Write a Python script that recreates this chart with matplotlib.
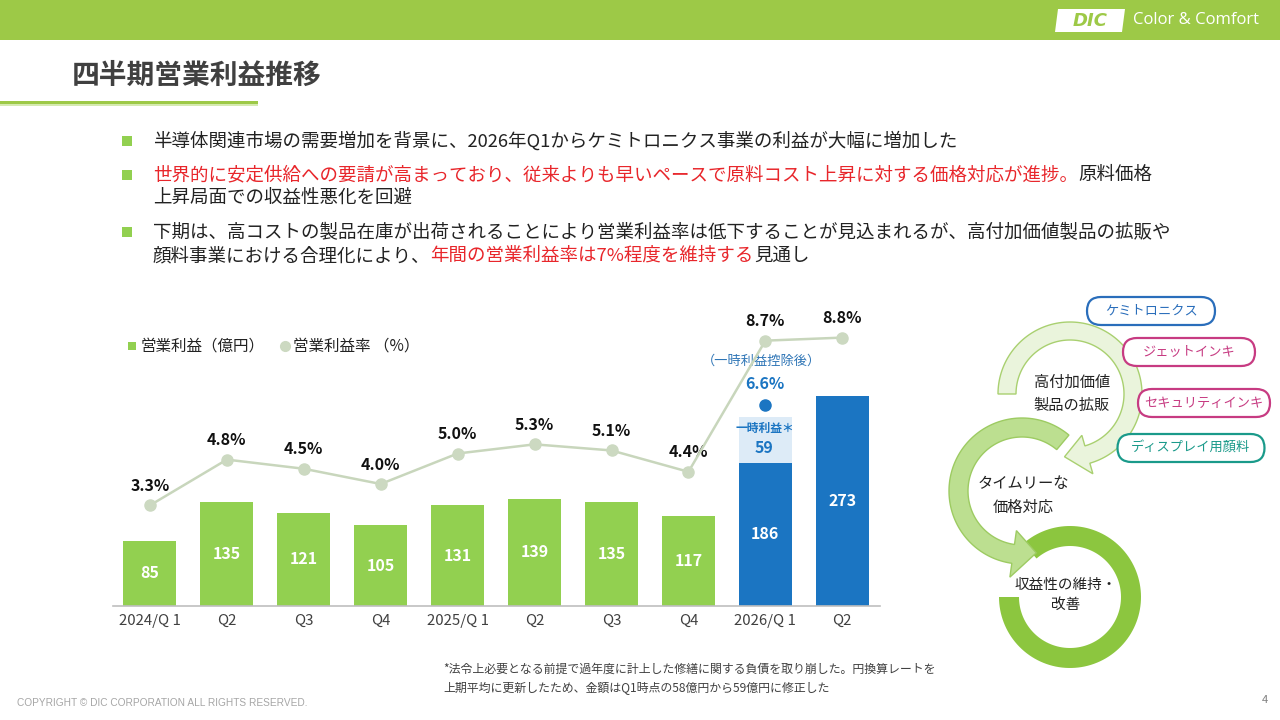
import numpy as np
import matplotlib
matplotlib.use("Agg")
import matplotlib.pyplot as plt
from matplotlib.patches import Rectangle, Polygon, FancyBboxPatch

plt.rcParams['font.family'] = ['Noto Sans CJK JP', 'DejaVu Sans']

# ---- data ----
quarters = ["2024/Q 1", "Q2", "Q3", "Q4", "2025/Q 1", "Q2", "Q3", "Q4", "2026/Q 1", "Q2"]
op_profit = [85, 135, 121, 105, 131, 139, 135, 117, 186, 273]   # 億円
op_margin = [3.3, 4.8, 4.5, 4.0, 5.0, 5.3, 5.1, 4.4, 8.7, 8.8]  # %
one_time_profit = 59          # 2026/Q1 一時利益
adj_margin = 6.6              # 2026/Q1 一時利益控除後
one_time_idx = 8

bullets = [
    [("半導体関連市場の需要増加を背景に、2026年Q1からケミトロニクス事業の利益が大幅に増加した", "k")],
    [("世界的に安定供給への要請が高まっており、従来よりも早いペースで原料コスト上昇に対する価格対応が進捗。", "r"),
     ("原料価格", "k")],
    [("上昇局面での収益性悪化を回避", "k")],
    [("下期は、高コストの製品在庫が出荷されることにより営業利益率は低下することが見込まれるが、高付加価値製品の拡販や", "k")],
    [("顔料事業における合理化により、", "k"), ("年間の営業利益率は7%程度を維持する", "r"), ("見通し", "k")],
]
bullet_first = [True, True, False, True, False]

pills = ["ケミトロニクス", "ジェットインキ", "セキュリティインキ", "ディスプレイ用顔料"]
cycle_labels = ["高付加価値\n製品の拡販", "タイムリーな\n価格対応", "収益性の維持・\n改善"]

GREEN = "#92D050"
BLUE = "#1B75C2"
RED = "#E8262B"

fig = plt.figure(figsize=(12.8, 7.2), dpi=100)
ov = fig.add_axes([0, 0, 1, 1])
ov.set_xlim(0, 1280)
ov.set_ylim(720, 0)
ov.axis('off')

# header band + logo
ov.add_patch(Rectangle((0, 0), 1280, 40, color="#9DC947", lw=0))
ov.add_patch(Polygon([(1058, 9), (1125, 9), (1122, 32), (1055, 32)], closed=True, color="white", lw=0))
ov.text(1090, 21, "DIC", color="#9DC947", fontsize=13, fontweight="bold", style="italic",
        ha="center", va="center", family="DejaVu Sans")
ov.text(1133, 20, "Color & Comfort", color="white", fontsize=12, ha="left", va="center",
        family="Open Sans")

# title
ov.text(72, 76, "四半期営業利益推移", fontsize=20, fontweight="bold", color="#404040",
        ha="left", va="center")
ov.add_patch(Rectangle((0, 101), 258, 3, color="#9DC947", lw=0))
ov.add_patch(Rectangle((0, 104), 258, 2, color="#D5EAB0", lw=0))

# bullets
renderer = fig.canvas.get_renderer()
line_y = [141, 175, 198, 232, 256]
for segs, y, first in zip(bullets, line_y, bullet_first):
    if first:
        ov.add_patch(Rectangle((122, y - 5), 10, 10, color=GREEN, lw=0))
    x = 153
    for s, c in segs:
        t = ov.text(x, y, s, fontsize=13.3, color=RED if c == "r" else "#222222",
                    ha="left", va="center")
        x += t.get_window_extent(renderer).width

# ---- chart ----
ax = fig.add_axes([113 / 1280, 114 / 720, 767 / 1280, 306 / 720])
ax.patch.set_alpha(0)
x = np.arange(len(quarters))
colors = [GREEN] * 8 + [BLUE] * 2
ax.bar(x, op_profit, width=0.69, color=colors, zorder=2)
ax.bar(one_time_idx, one_time_profit, bottom=op_profit[one_time_idx], width=0.69,
       color="#DDEBF7", zorder=2)
ax.set_xlim(-0.48, 9.49)
ax.set_ylim(0, 306 / 0.77)
for s in ["top", "right", "left"]:
    ax.spines[s].set_visible(False)
ax.spines["bottom"].set_color("#BFBFBF")
ax.spines["bottom"].set_linewidth(1.2)
ax.set_yticks([])
ax.set_xticks(x)
ax.set_xticklabels(quarters, fontsize=10.8, color="#404040")
ax.tick_params(axis="x", length=0, pad=6)

for i, v in enumerate(op_profit):
    ax.text(i, v / 2, str(v), ha="center", va="center", color="white",
            fontsize=11.5, fontweight="bold", zorder=3)
top_mid = op_profit[one_time_idx] + one_time_profit / 2
ax.annotate(str(one_time_profit), (one_time_idx, top_mid), xytext=(-1, -6),
            textcoords="offset points", ha="center", va="center", color=BLUE,
            fontsize=11.5, fontweight="bold", zorder=3)
ax.annotate("一時利益＊", (one_time_idx, top_mid), xytext=(0, 8),
            textcoords="offset points", ha="center", va="center", color=BLUE,
            fontsize=8.5, fontweight="bold", zorder=3)

ax2 = ax.twinx()
ax2.set_ylim(0, 306 / 30.5)
ax2.axis("off")
ax2.plot(x, op_margin, color="#C8D6BC", lw=1.8, marker="o", ms=8,
         markerfacecolor="#CCD9C1", markeredgecolor="#CCD9C1", zorder=4)
for i, v in enumerate(op_margin):
    ax2.annotate(f"{v}%", (i, v), xytext=(0, 14), textcoords="offset points",
                 ha="center", va="center", fontsize=11.5, fontweight="bold", color="#111111")
ax2.plot(one_time_idx, adj_margin, "o", color=BLUE, ms=8, zorder=5)
ax2.annotate(f"{adj_margin}%", (one_time_idx, adj_margin), xytext=(0, 15),
             textcoords="offset points", ha="center", va="center", fontsize=11.5,
             fontweight="bold", color=BLUE)
ax2.annotate("（一時利益控除後）", (one_time_idx, adj_margin), xytext=(-3, 31),
             textcoords="offset points", ha="center", va="center", fontsize=9.5,
             color="#2E75B6")

# legend
ov.add_patch(Rectangle((128, 342), 8, 8, color=GREEN, lw=0))
ov.text(141, 346, "営業利益（億円）", fontsize=11.2, color="#222222", ha="left", va="center")
ov.plot(285, 346, "o", color="#CCD9C1", ms=7)
ov.text(293, 346, "営業利益率 （%）", fontsize=11.2, color="#222222", ha="left", va="center")


# ---- right diagram ----
def arc_shape(cx, cy, r_in, r_out, a0, a1, head_w=0, head_deg=0):
    a = np.radians(np.linspace(a0, a1, 120))
    outer = np.c_[cx + r_out * np.cos(a), cy - r_out * np.sin(a)]
    inner = np.c_[cx + r_in * np.cos(a), cy - r_in * np.sin(a)][::-1]
    pts = [outer]
    if head_w:
        e = np.radians(a1)
        sgn = np.sign(a1 - a0)
        rm = (r_in + r_out) / 2
        t = e + sgn * np.radians(head_deg)
        pts.append(np.array([[cx + (r_out + head_w) * np.cos(e), cy - (r_out + head_w) * np.sin(e)],
                             [cx + rm * np.cos(t), cy - rm * np.sin(t)],
                             [cx + (r_in - head_w) * np.cos(e), cy - (r_in - head_w) * np.sin(e)]]))
    pts.append(inner)
    return np.vstack(pts)


ov.add_patch(Polygon(arc_shape(1070, 597, 51, 71, 180, 491), closed=True,
                     fc="#8CC63F", ec="none"))
ov.add_patch(Polygon(arc_shape(1022, 491, 54, 73, 50, 262, head_w=14, head_deg=21), closed=True,
                     fc="#BCDF90", ec="#9DCB62", lw=1))
ov.add_patch(Polygon(arc_shape(1070, 394, 54, 72, 180, -74, head_w=11, head_deg=21), closed=True,
                     fc="#EAF4DC", ec="#A9D070", lw=1))

ov.text(1072, 394, cycle_labels[0], fontsize=11, ha="center", va="center",
        color="#222222", linespacing=1.5)
ov.text(1023, 495, cycle_labels[1], fontsize=11, ha="center", va="center",
        color="#222222", linespacing=1.5)
ov.text(1066, 595, cycle_labels[2], fontsize=10.5, ha="center", va="center",
        color="#222222", linespacing=1.6)

pill_cx = [1151, 1189, 1204, 1191]
pill_cy = [311, 352, 403, 448]
pill_w = [128, 132, 132, 147]
pill_col = ["#2A6EBB", "#C73B82", "#C73B82", "#1A9A8A"]
for lab, cx, cy, w, c in zip(pills, pill_cx, pill_cy, pill_w, pill_col):
    h = 28
    ov.add_patch(FancyBboxPatch((cx - w / 2, cy - h / 2), w, h,
                                boxstyle="round,pad=0,rounding_size=14",
                                fc="white", ec=c, lw=1.6))
    ov.text(cx, cy, lab, fontsize=9.5, color=c, ha="center", va="center")

# footnote
ov.text(443, 669, "*法令上必要となる前提で過年度に計上した修繕に関する負債を取り崩した。円換算レートを",
        fontsize=8.6, color="#404040", ha="left", va="center")
ov.text(443, 688, "上期平均に更新したため、金額はQ1時点の58億円から59億円に修正した",
        fontsize=8.6, color="#404040", ha="left", va="center")
ov.text(17, 703, "COPYRIGHT © DIC CORPORATION ALL RIGHTS RESERVED.", fontsize=7.3,
        color="#A6A6A6", ha="left", va="center", family="Liberation Sans")
ov.text(1268, 700, "4", fontsize=8, color="#808080", ha="right", va="center")

fig.savefig("out.png", dpi=100)
